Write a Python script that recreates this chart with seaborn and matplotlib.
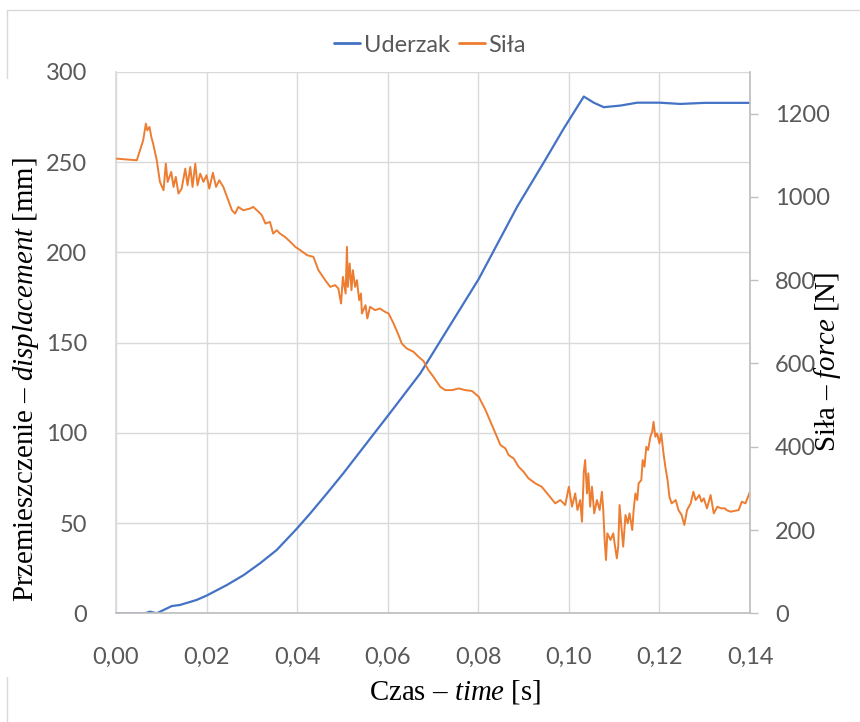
import matplotlib
matplotlib.use("Agg")
import matplotlib.pyplot as plt
import seaborn as sns
import pandas as pd
from matplotlib.lines import Line2D

# Uderzak - displacement [mm]
czas_uderzak = [0.0, 0.0064, 0.0075, 0.009, 0.0123, 0.0141, 0.0178, 0.020, 0.0245, 0.0282,
                0.0318, 0.0355, 0.040, 0.0429, 0.0466, 0.0502, 0.0539, 0.0576, 0.0602, 0.0672,
                0.0801, 0.0886, 0.0948, 0.0989, 0.1033, 0.1055, 0.1077, 0.1114, 0.1151, 0.120,
                0.1246, 0.130, 0.140]
uderzak_mm = [0.0, 0.0, 0.9, 0.0, 4.0, 4.6, 7.4, 9.8, 15.7, 21.2,
              27.7, 35.1, 47.1, 55.4, 66.5, 77.6, 89.6, 101.6, 110.0, 133.0,
              185.3, 225.4, 251.3, 268.8, 286.4, 283.0, 280.5, 281.4, 283.0, 283.0,
              282.3, 282.9, 282.9]

# Sila - force [N]
czas_sila = [0.0, 0.0046, 0.0053, 0.0060, 0.0066, 0.0069, 0.0074, 0.0078, 0.0082, 0.0090,
             0.0097, 0.0105, 0.0110, 0.0114, 0.0122, 0.0127, 0.0132, 0.0138, 0.0145, 0.0153,
             0.0158, 0.0164, 0.0169, 0.0175, 0.0180, 0.0186, 0.0193, 0.0200, 0.0206, 0.0214,
             0.0221, 0.0228, 0.0237, 0.0248, 0.0256, 0.0263, 0.0270, 0.0281, 0.0296, 0.0303,
             0.0315, 0.0322, 0.0330, 0.0340, 0.0347, 0.0355, 0.0362, 0.0373, 0.0385, 0.0396,
             0.0407, 0.0422, 0.0436, 0.0447, 0.0462, 0.0473, 0.0484, 0.0491, 0.0497, 0.0501,
             0.0507, 0.0510, 0.0512, 0.0516, 0.0520, 0.0523, 0.0528, 0.0532, 0.0537, 0.0541,
             0.0543, 0.0551, 0.0555, 0.0561, 0.0572, 0.0583, 0.0594, 0.0602, 0.0613, 0.0624,
             0.0631, 0.0642, 0.0657, 0.0668, 0.0679, 0.0690, 0.0701, 0.0716, 0.0727, 0.0742,
             0.0757, 0.0771, 0.0786, 0.0801, 0.0816, 0.0827, 0.0838, 0.0849, 0.0860, 0.0867,
             0.0878, 0.0889, 0.0900, 0.0911, 0.0926, 0.0940, 0.0955, 0.0970, 0.0981, 0.0992,
             0.1000, 0.1007, 0.1014, 0.1019, 0.1025, 0.1029, 0.1033, 0.1036, 0.1040, 0.1043,
             0.1047, 0.1051, 0.1056, 0.1062, 0.1068, 0.1073, 0.1076, 0.1079, 0.1082, 0.1085,
             0.1092, 0.1098, 0.1101, 0.1106, 0.1109, 0.1112, 0.1116, 0.1120, 0.1125, 0.1130,
             0.1134, 0.1140, 0.1143, 0.1147, 0.1151, 0.1154, 0.1160, 0.1163, 0.1167, 0.1171,
             0.1175, 0.1180, 0.1184, 0.1187, 0.1191, 0.1195, 0.1200, 0.1204, 0.1209, 0.1213,
             0.1218, 0.1222, 0.1227, 0.1236, 0.1242, 0.1249, 0.1255, 0.1261, 0.1269, 0.1275,
             0.1280, 0.1288, 0.1293, 0.1298, 0.1305, 0.1313, 0.1320, 0.1328, 0.1336, 0.1345,
             0.1348, 0.1357, 0.1375, 0.1382, 0.1390, 0.1400]
sila_n = [1092, 1088, 1112, 1136, 1176, 1160, 1168, 1144, 1128, 1088,
          1036, 1016, 1080, 1036, 1060, 1024, 1048, 1008, 1020, 1068,
          1028, 1072, 1024, 1080, 1028, 1056, 1036, 1052, 1020, 1058,
          1024, 1040, 1024, 992, 968, 960, 976, 968, 972, 976,
          964, 956, 936, 940, 912, 920, 912, 904, 892, 880,
          872, 860, 856, 824, 800, 784, 788, 780, 744, 808,
          768, 880, 784, 840, 776, 824, 784, 800, 752, 768,
          720, 740, 708, 736, 728, 732, 724, 720, 696, 668,
          648, 636, 628, 616, 606, 584, 568, 544, 536, 536,
          540, 536, 534, 520, 488, 460, 432, 404, 396, 380,
          372, 352, 340, 324, 312, 304, 284, 264, 272, 260,
          304, 256, 288, 248, 272, 220, 340, 368, 288, 336,
          256, 304, 240, 272, 248, 292, 248, 176, 128, 192,
          176, 192, 168, 132, 160, 260, 208, 160, 236, 216,
          240, 200, 248, 288, 272, 312, 320, 368, 352, 400,
          392, 424, 436, 460, 424, 432, 408, 432, 384, 352,
          320, 280, 264, 272, 248, 236, 212, 248, 264, 292,
          272, 284, 268, 276, 252, 284, 240, 256, 252, 252,
          248, 244, 248, 268, 264, 292]

x_ticks = [0.00, 0.02, 0.04, 0.06, 0.08, 0.10, 0.12, 0.14]
x_labels = ["0,00", "0,02", "0,04", "0,06", "0,08", "0,10", "0,12", "0,14"]
y_ticks = [0, 50, 100, 150, 200, 250, 300]
y2_ticks = [0, 200, 400, 600, 800, 1000, 1200]

BLUE = "#4472C4"
ORANGE = "#ED7D31"
GRID = "#D9D9D9"
TXT = "#595959"

sns.set_theme(style="white")
plt.rcParams["font.family"] = ["Lato", "DejaVu Sans"]
plt.rcParams["mathtext.fontset"] = "custom"
plt.rcParams["mathtext.rm"] = "Liberation Serif"
plt.rcParams["mathtext.it"] = "Liberation Serif:italic"

df_u = pd.DataFrame({"czas": czas_uderzak, "mm": uderzak_mm})
df_s = pd.DataFrame({"czas": czas_sila, "N": sila_n})

fig = plt.figure(figsize=(8.6, 7.22), dpi=100)
ax = fig.add_axes([116 / 860, 1 - 613.3 / 722, (750 - 116) / 860, (613.3 - 72) / 722])
ax2 = ax.twinx()

sns.lineplot(data=df_u, x="czas", y="mm", ax=ax, color=BLUE, linewidth=1.6, label="Uderzak")
sns.lineplot(data=df_s, x="czas", y="N", ax=ax2, color=ORANGE, linewidth=1.4, label="Siła")

ax.set_xlim(0, 0.14)
ax.set_ylim(0, 300)
ax2.set_ylim(0, 1300)
ax.set_xticks(x_ticks)
ax.set_xticklabels(x_labels)
ax.set_yticks(y_ticks)
ax2.set_yticks(y2_ticks)

ax.grid(True, color=GRID, linewidth=1)
ax2.grid(False)
ax.set_axisbelow(True)

for a in (ax, ax2):
    for s in a.spines.values():
        s.set_visible(False)
ax.spines["bottom"].set_visible(True)
ax.spines["bottom"].set_color("#BFBFBF")
ax.spines["left"].set_visible(True)
ax.spines["left"].set_color(GRID)
ax2.spines["right"].set_visible(True)
ax2.spines["right"].set_color("#BFBFBF")

ax.tick_params(axis="x", length=0, pad=24, labelsize=17, labelcolor=TXT)
ax.tick_params(axis="y", length=0, pad=21, labelsize=17, labelcolor=TXT)
ax2.tick_params(axis="y", length=6, width=1, color="#BFBFBF", pad=12, labelsize=17, labelcolor=TXT)

lab_font = dict(family="Liberation Serif", fontsize=20.8, color="black")
ax.set_xlabel("Czas – $\\mathit{time}$ [s]", **lab_font)
ax.set_ylabel("Przemieszczenie – $\\mathit{displacement}$ [mm]", **lab_font)
ax2.set_ylabel("Siła – $\\mathit{force}$ [N]", **lab_font)
ax.xaxis.label.set_va("center")
ax.yaxis.label.set_va("center")
ax2.yaxis.label.set_va("center")
ax.xaxis.set_label_coords((455 - 116) / 634, (613.3 - 692) / 541.3)
ax.yaxis.set_label_coords((26 - 116) / 634, (613.3 - 380) / 541.3)
ax2.yaxis.set_label_coords((828 - 116) / 634, (613.3 - 362) / 541.3)

ax.get_legend().remove()
ax2.get_legend().remove()
handles = [Line2D([], [], color=BLUE, linewidth=2), Line2D([], [], color=ORANGE, linewidth=2)]
fig.legend(handles, ["Uderzak", "Siła"], loc="center", bbox_to_anchor=(0.5, 1 - 45 / 722),
           ncol=2, frameon=False, fontsize=17, handlelength=1.1, handletextpad=0.15,
           columnspacing=0.4, labelcolor=TXT)

# chart frame remnants
fig.add_artist(Line2D([7 / 860, 1], [1 - 10 / 722, 1 - 10 / 722], transform=fig.transFigure, color=GRID, lw=1))
fig.add_artist(Line2D([7 / 860, 7 / 860], [1 - 10 / 722, 1 - 78 / 722], transform=fig.transFigure, color=GRID, lw=1))
fig.add_artist(Line2D([7 / 860, 7 / 860], [1 - 677 / 722, 0], transform=fig.transFigure, color=GRID, lw=1))

fig.savefig("out.png", dpi=100)
